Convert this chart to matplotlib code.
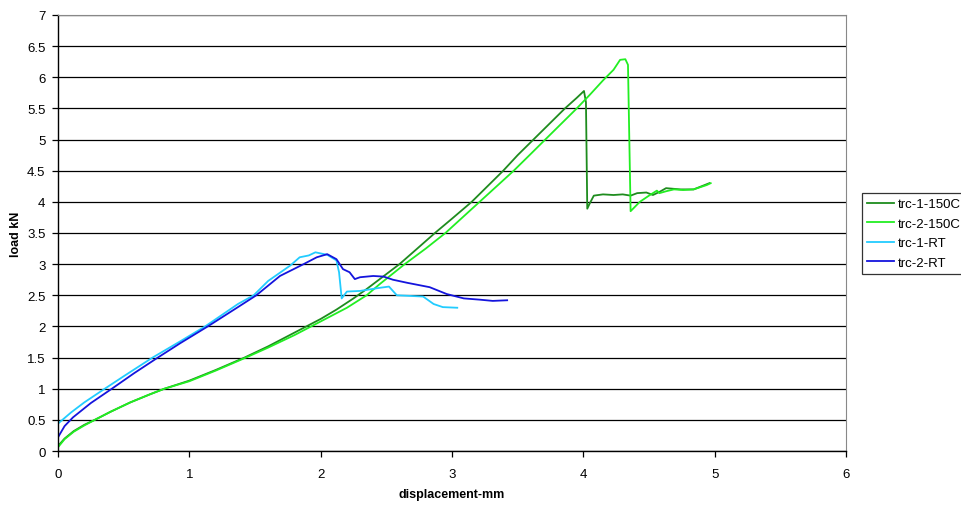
import matplotlib
matplotlib.use("Agg")
import matplotlib.pyplot as plt

plt.rcParams['font.family'] = ['Liberation Sans', 'DejaVu Sans']

# trc-1-150C (dark green)
x_1_150 = [0, 0.05, 0.12, 0.2, 0.28, 0.4, 0.55, 0.7, 0.81, 1.0, 1.2, 1.42, 1.6, 1.8, 2.0, 2.12,
           2.25, 2.35, 2.45, 2.6, 2.73, 2.87, 3.0, 3.15, 3.27, 3.39, 3.5, 3.62, 3.74, 3.86, 3.95,
           4.005, 4.02, 4.03, 4.05, 4.08, 4.15, 4.23, 4.30, 4.36, 4.41, 4.48, 4.53, 4.58, 4.63,
           4.74, 4.84, 4.90, 4.96]
y_1_150 = [0.08, 0.2, 0.32, 0.42, 0.5, 0.63, 0.78, 0.91, 1.0, 1.13, 1.3, 1.5, 1.68, 1.9, 2.12, 2.27,
           2.45, 2.6, 2.76, 3.0, 3.24, 3.5, 3.73, 4.0, 4.25, 4.5, 4.75, 5.0, 5.25, 5.5, 5.67,
           5.78, 5.6, 3.89, 3.98, 4.10, 4.12, 4.11, 4.12, 4.10, 4.14, 4.15, 4.11, 4.16, 4.22,
           4.20, 4.20, 4.25, 4.30]

# trc-2-150C (light green)
x_2_150 = [0, 0.05, 0.12, 0.2, 0.28, 0.4, 0.55, 0.7, 0.81, 1.0, 1.2, 1.42, 1.6, 1.8, 2.0, 2.2,
           2.35, 2.45, 2.64, 2.8, 2.95, 3.08, 3.21, 3.34, 3.47, 3.6, 3.71, 3.83, 3.95, 4.05, 4.15,
           4.23, 4.28, 4.32, 4.34, 4.36, 4.43, 4.50, 4.56, 4.58, 4.63, 4.69, 4.76, 4.84, 4.94, 4.97]
y_2_150 = [0.06, 0.19, 0.31, 0.41, 0.5, 0.63, 0.78, 0.91, 1.0, 1.12, 1.29, 1.49, 1.66, 1.86, 2.08, 2.3,
           2.5, 2.68, 3.0, 3.25, 3.5, 3.75, 4.0, 4.25, 4.5, 4.77, 5.0, 5.25, 5.5, 5.72, 5.95,
           6.12, 6.28, 6.29, 6.2, 3.85, 4.0, 4.1, 4.18, 4.14, 4.17, 4.2, 4.19, 4.2, 4.27, 4.3]

# trc-1-RT (cyan)
x_1_rt = [0, 0.1, 0.2, 0.356, 0.5, 0.72, 0.93, 1.12, 1.37, 1.49, 1.60, 1.77, 1.84, 1.91, 1.96,
          2.05, 2.12, 2.14, 2.16, 2.20, 2.30, 2.45, 2.52, 2.58, 2.78, 2.86, 2.93, 3.04]
y_1_rt = [0.44, 0.62, 0.78, 1.0, 1.2, 1.5, 1.76, 2.0, 2.36, 2.5, 2.73, 2.98, 3.11, 3.14, 3.19,
          3.15, 3.06, 2.87, 2.45, 2.56, 2.57, 2.62, 2.64, 2.50, 2.48, 2.36, 2.31, 2.30]

# trc-2-RT (blue)
x_2_rt = [0, 0.05, 0.114, 0.25, 0.41, 0.58, 0.76, 0.93, 1.14, 1.37, 1.51, 1.69, 1.87, 1.97,
          2.05, 2.12, 2.17, 2.22, 2.26, 2.30, 2.40, 2.48, 2.55, 2.66, 2.83, 2.96, 3.09, 3.21,
          3.31, 3.42]
y_2_rt = [0.22, 0.40, 0.54, 0.77, 1.0, 1.25, 1.5, 1.73, 2.0, 2.31, 2.5, 2.81, 3.0, 3.11,
          3.16, 3.08, 2.92, 2.87, 2.76, 2.79, 2.81, 2.80, 2.75, 2.70, 2.63, 2.52, 2.45, 2.43,
          2.41, 2.42]

fig = plt.figure(figsize=(9.62, 5.06), dpi=100)
ax = fig.add_axes([0.0603, 0.1067, 0.8191, 0.8617])

ax.set_axisbelow(True)
ax.yaxis.grid(True, color='black', linewidth=0.9)

ax.plot(x_1_150, y_1_150, color='#1e8c1e', linewidth=1.3, label='trc-1-150C')
ax.plot(x_2_150, y_2_150, color='#22ee22', linewidth=1.3, label='trc-2-150C')
ax.plot(x_1_rt, y_1_rt, color='#22ccff', linewidth=1.3, label='trc-1-RT')
ax.plot(x_2_rt, y_2_rt, color='#1414dd', linewidth=1.3, label='trc-2-RT')

ax.set_xlim(0, 6)
ax.set_ylim(0, 7)
ax.set_xticks(range(0, 7))
ax.set_yticks([i * 0.5 for i in range(15)])
ax.set_yticklabels(['0', '0.5', '1', '1.5', '2', '2.5', '3', '3.5', '4', '4.5', '5', '5.5', '6', '6.5', '7'])
ax.tick_params(labelsize=9.5, length=4, width=0.9, colors='black')
ax.tick_params(axis='x', pad=8)
ax.tick_params(axis='y', pad=5)

ax.spines['top'].set_color('#888888')
ax.spines['right'].set_color('#888888')
ax.spines['left'].set_linewidth(1.0)
ax.spines['bottom'].set_linewidth(1.0)

ax.set_xlabel('displacement-mm', fontsize=9, fontweight='bold', labelpad=6)
ax.set_ylabel('load kN', fontsize=9, fontweight='bold')
ax.yaxis.set_label_coords(-0.046, 0.5)

leg = ax.legend(loc='upper left', bbox_to_anchor=(0.896, 0.617), bbox_transform=fig.transFigure,
                borderaxespad=0, fontsize=9.5, frameon=True, fancybox=False, handlelength=2.0,
                handletextpad=0.3, labelspacing=0.55, borderpad=0.4)
leg.get_frame().set_edgecolor('black')
leg.get_frame().set_linewidth(0.9)

fig.savefig('out.png', dpi=100)
